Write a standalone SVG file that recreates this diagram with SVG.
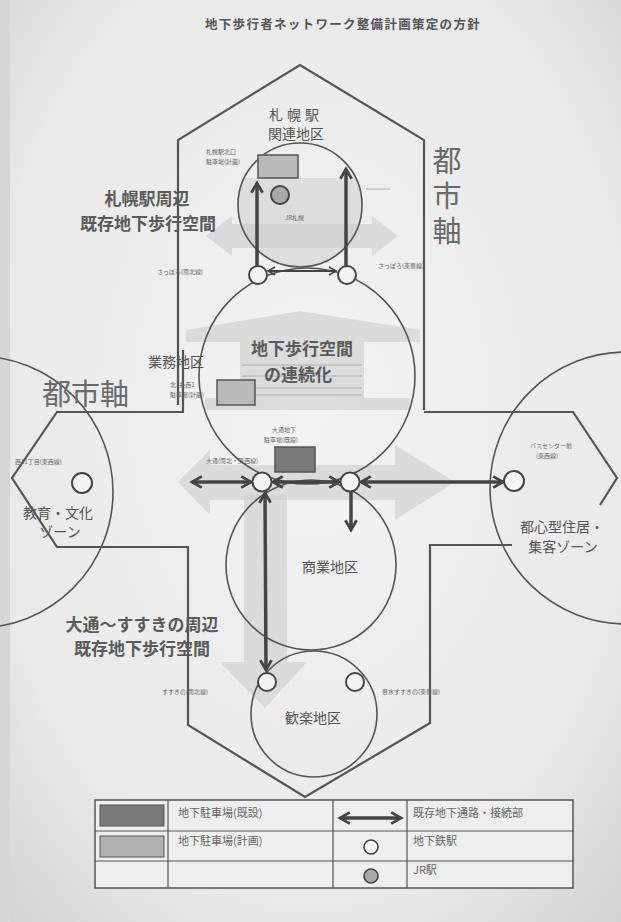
<svg xmlns="http://www.w3.org/2000/svg" width="621" height="922" viewBox="0 0 621 922">
<defs>
<radialGradient id="paper" cx="0.5" cy="0.45" r="0.75">
<stop offset="0" stop-color="#f3f3f3"/>
<stop offset="0.7" stop-color="#e9e9e9"/>
<stop offset="1" stop-color="#d2d2d2"/>
</radialGradient>
<marker id="ah" viewBox="0 0 10 10" refX="8" refY="5" markerWidth="4" markerHeight="4" orient="auto-start-reverse" markerUnits="strokeWidth">
<path d="M1,1 L8,5 L1,9" fill="none" stroke="#444" stroke-width="2"/>
</marker>
<marker id="ahs" viewBox="0 0 10 10" refX="8" refY="5" markerWidth="5" markerHeight="5" orient="auto-start-reverse" markerUnits="strokeWidth">
<path d="M1,1 L8,5 L1,9" fill="none" stroke="#444" stroke-width="1.6"/>
</marker>
<clipPath id="sapc"><circle cx="300" cy="205" r="62"/></clipPath>
<style>
.ol{fill:none;stroke:#555;stroke-width:2.2;stroke-linejoin:miter}
.ci{fill:none;stroke:#555;stroke-width:1.6}
.st{fill:#f5f5f5;stroke:#444;stroke-width:2}
.jr{fill:#a8a8a8;stroke:#444;stroke-width:2}
.sh{fill:#cdcdcd;opacity:0.6}
.ar{fill:none;stroke:#444;stroke-width:3.5;marker-start:url(#ah);marker-end:url(#ah)}
.ar1{fill:none;stroke:#444;stroke-width:3.5;marker-end:url(#ah)}
.ars{fill:none;stroke:#444;stroke-width:2;marker-start:url(#ahs);marker-end:url(#ahs)}
text{font-family:"Noto Sans CJK JP","Noto Sans",sans-serif;fill:#555}
.t{font-size:6px;fill:#666}
.m{font-size:14px}
.b{font-size:17px;font-weight:bold;fill:#5a5a5a}
.ax{font-size:29px;fill:#6a6a6a}
.lg{font-size:11px;fill:#666}
</style>
</defs>
<rect x="0" y="0" width="621" height="922" fill="url(#paper)"/>
<rect x="0" y="0" width="10" height="922" fill="#d6d6d6"/>

<text x="205" y="29" font-size="12.5" font-weight="bold" letter-spacing="1.3" fill="#555">地下歩行者ネットワーク整備計画策定の方針</text>

<g id="outline">
<polyline class="ol" points="178,405 178,140 300,65 424,140 424,410"/>
<polyline class="ol" points="183,350 183,412 57,412 12,478 57,547 188,547 188,725 305,797 430,723 430,545 512,545"/>
<polyline class="ol" points="424,412 573,412 617,478 600,505"/>
</g>

<g id="shading">
<g clip-path="url(#sapc)"><rect x="235" y="178" width="130" height="95" fill="#d6d6d6" opacity="0.7"/></g>
<polygon class="sh" points="206,236 232,216 232,224 372,224 372,216 398,236 372,256 372,248 232,248 232,256"/>
<polygon class="sh" points="186,330 300,311 420,330 420,342 364,342 364,398 410,398 410,410 205,410 205,398 240,398 240,342 186,342"/>
<g stroke="#b0b0b0" stroke-width="1"><line x1="242" y1="365" x2="362" y2="365"/><line x1="242" y1="376" x2="362" y2="376"/><line x1="242" y1="388" x2="362" y2="388"/><line x1="242" y1="395" x2="362" y2="395"/></g>
<polygon class="sh" points="178,482 210,450 210,465 395,465 395,445 455,482 395,520 395,500 210,500 210,515"/>
<polygon class="sh" points="244,495 287,495 287,662 307,662 265,708 220,662 244,662"/>
</g>

<g id="zones">
<circle id="sapporo-zone" class="ci" cx="300" cy="205" r="62"/>
<circle id="business-zone" class="ci" cx="307" cy="376" r="108"/>
<circle id="commercial-zone" class="ci" cx="311" cy="565" r="85"/>
<circle id="entertainment-zone" class="ci" cx="314" cy="714" r="63"/>
<circle id="education-zone" class="ci" cx="-23" cy="492" r="136"/>
<circle id="residential-zone" class="ci" cx="626" cy="488" r="136"/>
</g>

<g id="connectors">
<line class="ar1" x1="257" y1="266" x2="257" y2="183"/>
<line class="ar1" x1="346" y1="266" x2="346" y2="169"/>
<line class="ars" x1="268" y1="271" x2="336" y2="271"/>
<line class="ar" x1="192" y1="482" x2="251" y2="482"/>
<line class="ar" x1="273" y1="482" x2="339" y2="482"/>
<line class="ar" x1="361" y1="482" x2="503" y2="482"/>
<line class="ar" x1="265" y1="493" x2="266" y2="670"/>
<line class="ar1" x1="351" y1="491" x2="351" y2="530"/>
<line x1="366" y1="189" x2="390" y2="189" stroke="#aaa" stroke-width="1"/>
</g>

<g id="parking">
<g id="p-sapporo"><rect x="258" y="155" width="40" height="23" fill="#b9b9b9" stroke="#555" stroke-width="1.5"/><text class="t" x="206" y="154">札幌駅北口<tspan x="206" dy="10">駐車場(計画)</tspan></text></g>
<g id="p-kita1"><rect x="217" y="380" width="38" height="25" fill="#b9b9b9" stroke="#555" stroke-width="1.5"/><text class="t" x="170" y="387">北1条西1<tspan x="170" dy="10">駐車場(計画)</tspan></text></g>
<g id="p-odori"><rect x="275" y="447" width="40" height="25" fill="#7a7a7a" stroke="#555" stroke-width="1.5"/><text class="t" x="272" y="432">大通地下<tspan x="264" dy="10">駐車場(既設)</tspan></text></g>
</g>

<g id="stations">
<g id="st-sapporo-n"><circle class="st" cx="258" cy="275" r="9"/><text class="t" x="157" y="274">さっぽろ(南北線)</text></g>
<g id="st-sapporo-t"><circle class="st" cx="347" cy="275" r="9"/><text class="t" x="378" y="268">さっぽろ(東豊線)</text></g>
<g id="st-jr"><circle class="jr" cx="280" cy="195" r="9"/><text class="t" x="285" y="220">JR札幌</text></g>
<g id="st-odori"><circle class="st" cx="262" cy="482" r="9.5"/><text class="t" x="206" y="463">大通(南北・東西線)</text></g>
<g id="st-odori2"><circle class="st" cx="350" cy="482" r="9.5"/></g>
<g id="st-bus"><circle class="st" cx="514" cy="481" r="10"/><text class="t" x="530" y="448">バスセンター前<tspan x="536" dy="10">(東西線)</tspan></text></g>
<g id="st-nishi11"><circle class="st" cx="82" cy="483" r="10"/><text class="t" x="15" y="464">西11丁目(東西線)</text></g>
<g id="st-susukino"><circle class="st" cx="267" cy="682" r="9"/><text class="t" x="162" y="694">すすきの(南北線)</text></g>
<g id="st-hosui"><circle class="st" cx="355" cy="682" r="9"/><text class="t" x="382" y="694">豊水すすきの(東豊線)</text></g>
</g>

<g id="labels">
<text class="m" x="296" y="120" text-anchor="middle" letter-spacing="4" font-size="13">札幌駅<tspan x="296" dy="19" letter-spacing="0">関連地区</tspan></text>
<text class="b" x="147" y="205" text-anchor="middle">札幌駅周辺<tspan x="148" dy="25">既存地下歩行空間</tspan></text>
<text class="ax" x="447" y="146" writing-mode="vertical-rl" letter-spacing="6">都市軸</text>
<text class="ax" x="42" y="405">都市軸</text>
<text class="m" x="148" y="367">業務地区</text>
<text class="b" x="302" y="355" text-anchor="middle" font-size="18">地下歩行空間<tspan x="298" dy="26">の連続化</tspan></text>
<text class="m" x="58" y="518" text-anchor="middle">教育・文化<tspan x="60" dy="19">ゾーン</tspan></text>
<text class="m" x="562" y="532" text-anchor="middle">都心型住居・<tspan x="563" dy="20">集客ゾーン</tspan></text>
<text class="m" x="330" y="572" text-anchor="middle">商業地区</text>
<text class="b" x="142" y="631" text-anchor="middle" font-size="16.5">大通～すすきの周辺<tspan x="142" dy="24">既存地下歩行空間</tspan></text>
<text class="m" x="313" y="723" text-anchor="middle">歓楽地区</text>
</g>

<g id="legend">
<rect x="95" y="800" width="478" height="88" fill="#eeeeee" stroke="#555" stroke-width="1.5"/>
<g stroke="#555" stroke-width="1.2">
<line x1="95" y1="831" x2="573" y2="831"/><line x1="95" y1="861" x2="573" y2="861"/>
<line x1="168" y1="800" x2="168" y2="888"/><line x1="333" y1="800" x2="333" y2="888"/><line x1="407" y1="800" x2="407" y2="888"/>
</g>
<rect x="100" y="805" width="64" height="21" fill="#7a7a7a" stroke="#555" stroke-width="1"/>
<rect x="100" y="836" width="64" height="21" fill="#b0b0b0" stroke="#555" stroke-width="1"/>
<line class="ar" x1="340" y1="818" x2="401" y2="818"/>
<circle cx="371" cy="847" r="7" fill="#f5f5f5" stroke="#444" stroke-width="1.6"/>
<circle cx="371" cy="876" r="7" fill="#a8a8a8" stroke="#444" stroke-width="1.6"/>
<text class="lg" x="178" y="817">地下駐車場(既設)</text>
<text class="lg" x="178" y="845">地下駐車場(計画)</text>
<text class="lg" x="413" y="817">既存地下通路・接続部</text>
<text class="lg" x="413" y="845">地下鉄駅</text>
<text class="lg" x="413" y="874">JR駅</text>
</g>
</svg>
